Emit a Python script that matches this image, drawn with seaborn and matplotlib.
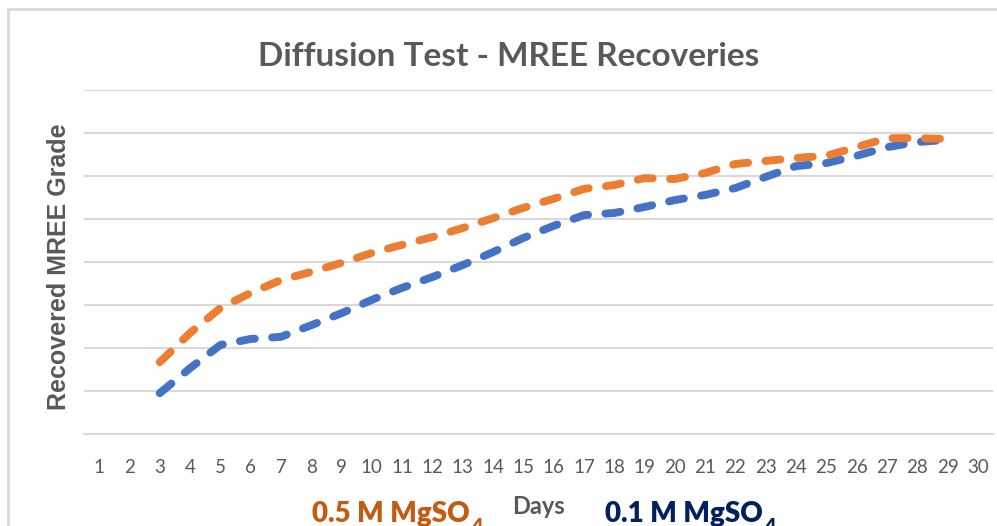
import pandas as pd
import seaborn as sns
import matplotlib.pyplot as plt
from matplotlib.patches import Rectangle

# Data (grade in gridline units, axis has no labels)
days = list(range(3, 30))
grade_05M = [1.67, 2.35, 2.93, 3.28, 3.58, 3.77, 3.98, 4.21, 4.40, 4.58,
             4.79, 5.02, 5.26, 5.47, 5.70, 5.79, 5.95, 5.93, 6.07, 6.28,
             6.35, 6.42, 6.47, 6.67, 6.88, 6.88, 6.86]
grade_01M = [0.95, 1.53, 2.07, 2.21, 2.26, 2.53, 2.81, 3.12, 3.40, 3.65,
             3.93, 4.23, 4.56, 4.84, 5.09, 5.14, 5.28, 5.44, 5.56, 5.72,
             5.98, 6.23, 6.30, 6.47, 6.67, 6.79, 6.84]
day_labels = [str(d) for d in range(1, 31)]

sns.set_style('white')
plt.rcParams['font.family'] = ['Lato', 'DejaVu Sans']

grey = '#595959'
line_grey = '#D9D9D9'

fig = plt.figure(figsize=(9.97, 5.26), dpi=100)
ax = fig.add_axes([84 / 997, 1 - 434 / 526, 909 / 997, 344 / 526])

# chart area border
fig.patches.append(Rectangle((8 / 997, -0.1), 1.2, 1 - 9 / 526 + 0.1,
                             transform=fig.transFigure, fill=False,
                             edgecolor=line_grey, lw=2))

dash = (0, (1.9, 2.2))
sns.lineplot(x=days, y=grade_01M, ax=ax, color='#4472C4', lw=5.7,
             linestyle=dash, dash_capstyle='round')
sns.lineplot(x=days, y=grade_05M, ax=ax, color='#ED7D31', lw=5.7,
             linestyle=dash, dash_capstyle='round')

ax.set_xlim(0.5, 30.5)
ax.set_ylim(0, 8)
ax.set_yticks(range(1, 9))
ax.set_yticklabels([])
ax.tick_params(axis='y', length=0)
ax.grid(axis='y', color=line_grey, lw=1.5)
ax.grid(axis='x', visible=False)
ax.set_axisbelow(True)

ax.set_xticks(range(1, 31))
ax.set_xticklabels(day_labels, color=grey, fontsize=13.5)
ax.tick_params(axis='x', which='major', length=0, pad=18)
ax.set_xticks([d + 0.5 for d in range(0, 31)], minor=True)
ax.tick_params(axis='x', which='minor', length=7, width=1.5, color=line_grey)

for s in ['top', 'right', 'left']:
    ax.spines[s].set_visible(False)
ax.spines['bottom'].set_color(line_grey)
ax.spines['bottom'].set_linewidth(1.5)

fig.text(509 / 997, 1 - 66 / 526, 'Diffusion Test - MREE Recoveries',
         ha='center', va='baseline', fontsize=24, fontweight='bold',
         color=grey)
fig.text(59 / 997, 1 - 267 / 526, 'Recovered MREE Grade', rotation=90,
         ha='center', va='center', fontsize=18, fontweight='bold',
         color=grey, family='Liberation Sans')
fig.text(538 / 997, 1 - 514 / 526, 'Days', ha='center', va='baseline',
         fontsize=17, fontweight='bold', color=grey)


def series_label(text, x_left, baseline, color):
    main = fig.text(x_left / 997, 1 - baseline / 526, text,
                    ha='left', va='baseline', fontsize=20,
                    fontweight='heavy', color=color)
    ax.annotate('4', xy=(1, 0), xycoords=main, xytext=(1, -3.5),
                textcoords='offset points', ha='left', va='baseline',
                fontsize=14, fontweight='heavy', color=color,
                annotation_clip=False)


series_label('0.5 M MgSO', 312, 522, '#C55A11')
series_label('0.1 M MgSO', 605, 522, '#002060')

fig.savefig('out.png', dpi=100)
